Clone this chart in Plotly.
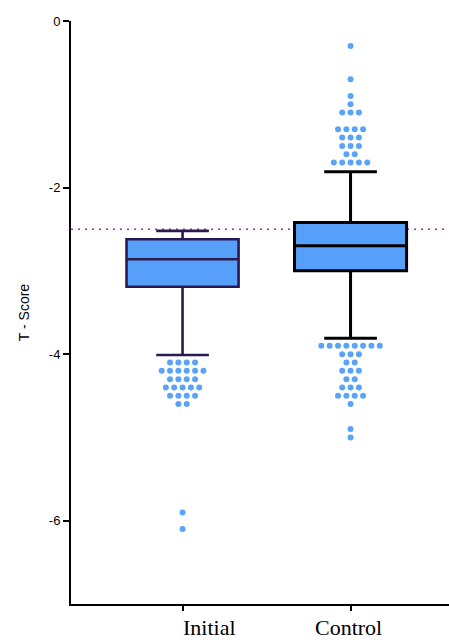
import plotly.graph_objects as go

categories = ["Initial", "Control"]
q1 = [-3.19, -3.00]
median = [-2.86, -2.70]
q3 = [-2.62, -2.42]
lower_whisker = [-4.01, -3.81]
upper_whisker = [-2.52, -1.81]

initial_outliers = [-4.1]*4 + [-4.2]*6 + [-4.3]*4 + [-4.4]*5 + [-4.5]*4 + [-4.6]*2 + [-5.9, -6.1]
control_outliers = ([-0.3, -0.7, -0.9, -1.0] + [-1.1]*3 + [-1.3]*4 + [-1.4]*3 + [-1.5]*3 + [-1.6]*2 + [-1.7]*5
                    + [-3.9]*8 + [-4.0]*3 + [-4.1]*2 + [-4.2]*3 + [-4.3]*2 + [-4.4]*3 + [-4.5]*4 + [-4.6, -4.9, -5.0])
threshold = -2.5
yticks = [0, -2, -4, -6]

box_line_colors = ["#2b1a52", "#000000"]
fill = "#56a0fa"
dot_color = "#5ba3f7"

fig = go.Figure()
for i, cat in enumerate(categories):
    fig.add_trace(go.Box(
        x=[i], q1=[q1[i]], median=[median[i]], q3=[q3[i]],
        lowerfence=[lower_whisker[i]], upperfence=[upper_whisker[i]],
        boxpoints=False, width=0.667, whiskerwidth=0.47,
        fillcolor=fill, line=dict(color=box_line_colors[i], width=2.6 if i == 0 else 3),
        showlegend=False, name=cat, hoverinfo="skip"))

def swarm(values, center, step=0.0497):
    xs, ys = [], []
    groups = {}
    for v in values:
        groups.setdefault(v, 0)
        groups[v] += 1
    for v, n in groups.items():
        for k in range(n):
            xs.append(center + (k - (n - 1) / 2) * step)
            ys.append(v)
    return xs, ys

for i, vals in enumerate([initial_outliers, control_outliers]):
    xs, ys = swarm(vals, i)
    fig.add_trace(go.Scatter(x=xs, y=ys, mode="markers",
                             marker=dict(size=6, color=dot_color),
                             showlegend=False, hoverinfo="skip"))

fig.add_shape(type="line", xref="paper", yref="y", x0=0, x1=1, y0=threshold, y1=threshold,
              line=dict(color="#9b2fae", width=1.6, dash="2px,5px"), layer="below")

label_shift = [27, -2]
for i, cat in enumerate(categories):
    fig.add_annotation(x=i, y=0, xref="x", yref="paper", text=cat, showarrow=False,
                       yanchor="top", yshift=-10, xshift=label_shift[i], borderpad=0,
                       font=dict(family="Liberation Serif", size=22, color="#000"))

fig.update_layout(
    width=449, height=642,
    margin=dict(l=71, r=0, t=21, b=38),
    plot_bgcolor="white", paper_bgcolor="white",
    font=dict(family="Liberation Sans", color="#000"),
)
fig.update_xaxes(range=[-0.664, 1.586], showgrid=False, zeroline=False,
                 tickvals=[0, 1], ticktext=["", ""], ticks="outside", ticklen=5, tickwidth=2,
                 showline=True, linecolor="#000", linewidth=2, tickcolor="#000")
fig.update_yaxes(range=[-7, 0], showgrid=False, zeroline=False,
                 tickvals=yticks, ticktext=[str(v) for v in yticks],
                 ticks="outside", ticklen=6, tickwidth=2, tickcolor="#000",
                 showline=True, linecolor="#000", linewidth=2,
                 tickfont=dict(size=13, family="Liberation Sans"),
                 title=dict(text="T - Score", font=dict(size=14, family="Liberation Sans"), standoff=16))

fig.write_html("out.html", config={"displayModeBar": False},
               post_script="document.body.style.margin='0';document.body.style.overflow='hidden';")
